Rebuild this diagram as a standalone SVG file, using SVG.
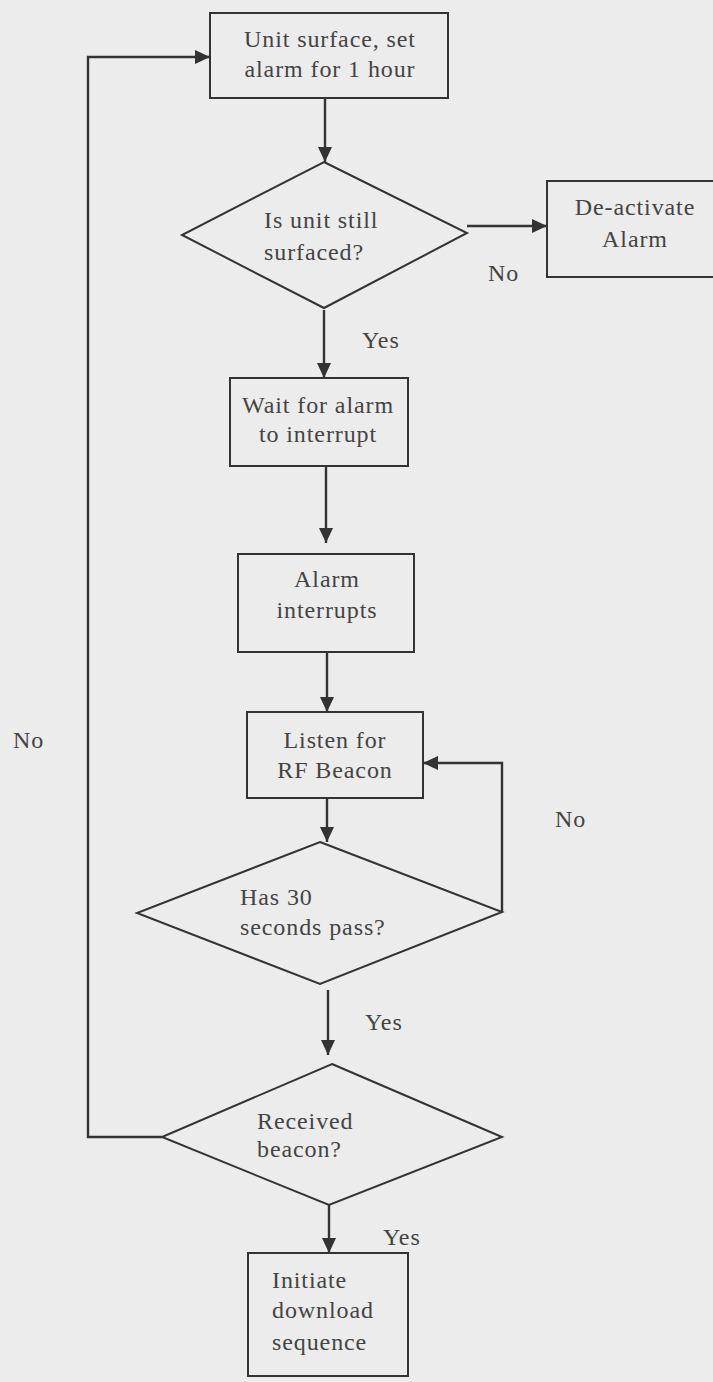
<svg xmlns="http://www.w3.org/2000/svg" width="713" height="1382" viewBox="0 0 713 1382">
  <defs>
    <marker id="arrow" markerUnits="userSpaceOnUse" markerWidth="16" markerHeight="14" refX="15" refY="7" orient="auto">
      <path d="M0,0 L15,7 L0,14 z" fill="#333"/>
    </marker>
    <style>
      .shape { fill: none; stroke: #333; stroke-width: 2; }
      .edge { fill: none; stroke: #333; stroke-width: 2.4; marker-end: url(#arrow); }
      .t { font-family: 'Liberation Serif', 'Times New Roman', serif; font-size: 24px; fill: #444; letter-spacing: 0.9px; }
      .c { text-anchor: middle; }
    </style>
  </defs>

  <rect x="0" y="0" width="713" height="1382" fill="#ececec"/>

  <!-- connectors and their branch labels -->
  <g id="connectors">
    <line class="edge" x1="325" y1="98" x2="325" y2="162"/>
    <line class="edge" x1="467" y1="226" x2="547" y2="226"/>
    <line class="edge" x1="324" y1="310" x2="324" y2="378"/>
    <line class="edge" x1="326" y1="466" x2="326" y2="543"/>
    <line class="edge" x1="327" y1="652" x2="327" y2="712"/>
    <line class="edge" x1="327" y1="798" x2="327" y2="842"/>
    <polyline class="edge" points="502,912 502,763 423,763"/>
    <line class="edge" x1="328" y1="990" x2="328" y2="1055"/>
    <polyline class="edge" points="162,1137 88,1137 88,57 210,57"/>
    <line class="edge" x1="329" y1="1205" x2="329" y2="1253"/>
    <g class="t" font-family="Liberation Serif, serif">
      <text x="362" y="348">Yes</text>
      <text x="488" y="281">No</text>
      <text x="13" y="748">No</text>
      <text x="555" y="827">No</text>
      <text x="365" y="1030">Yes</text>
      <text x="383" y="1245">Yes</text>
    </g>
  </g>

  <g id="surface" class="t" font-family="Liberation Serif, serif">
    <rect class="shape" x="210" y="13" width="238" height="85"/>
    <text class="c" x="330" y="47">Unit surface, set</text>
    <text class="c" x="330" y="77">alarm for 1 hour</text>
  </g>

  <g id="still-surfaced" class="t" font-family="Liberation Serif, serif">
    <polygon class="shape" points="324,162 467,233 324,308 182,235"/>
    <text x="264" y="228">Is unit still</text>
    <text x="264" y="260">surfaced?</text>
  </g>

  <g id="deactivate" class="t" font-family="Liberation Serif, serif">
    <rect class="shape" x="547" y="181" width="180" height="96"/>
    <text class="c" x="635" y="215">De-activate</text>
    <text class="c" x="635" y="247">Alarm</text>
  </g>

  <g id="wait" class="t" font-family="Liberation Serif, serif">
    <rect class="shape" x="230" y="378" width="178" height="88"/>
    <text class="c" x="318" y="413">Wait for alarm</text>
    <text class="c" x="318" y="442">to interrupt</text>
  </g>

  <g id="alarm" class="t" font-family="Liberation Serif, serif">
    <rect class="shape" x="238" y="554" width="176" height="98"/>
    <text class="c" x="327" y="587">Alarm</text>
    <text class="c" x="327" y="618">interrupts</text>
  </g>

  <g id="listen" class="t" font-family="Liberation Serif, serif">
    <rect class="shape" x="247" y="712" width="176" height="86"/>
    <text class="c" x="335" y="748">Listen for</text>
    <text class="c" x="335" y="778">RF Beacon</text>
  </g>

  <g id="timeout" class="t" font-family="Liberation Serif, serif">
    <polygon class="shape" points="320,842 502,912 320,984 137,913"/>
    <text x="240" y="905">Has 30</text>
    <text x="240" y="935">seconds pass?</text>
  </g>

  <g id="received" class="t" font-family="Liberation Serif, serif">
    <polygon class="shape" points="332,1064 502,1137 329,1205 162,1137"/>
    <text x="257" y="1129">Received</text>
    <text x="257" y="1157">beacon?</text>
  </g>

  <g id="download" class="t" font-family="Liberation Serif, serif">
    <rect class="shape" x="248" y="1253" width="160" height="123"/>
    <text x="272" y="1288">Initiate</text>
    <text x="272" y="1318">download</text>
    <text x="272" y="1350">sequence</text>
  </g>
</svg>
